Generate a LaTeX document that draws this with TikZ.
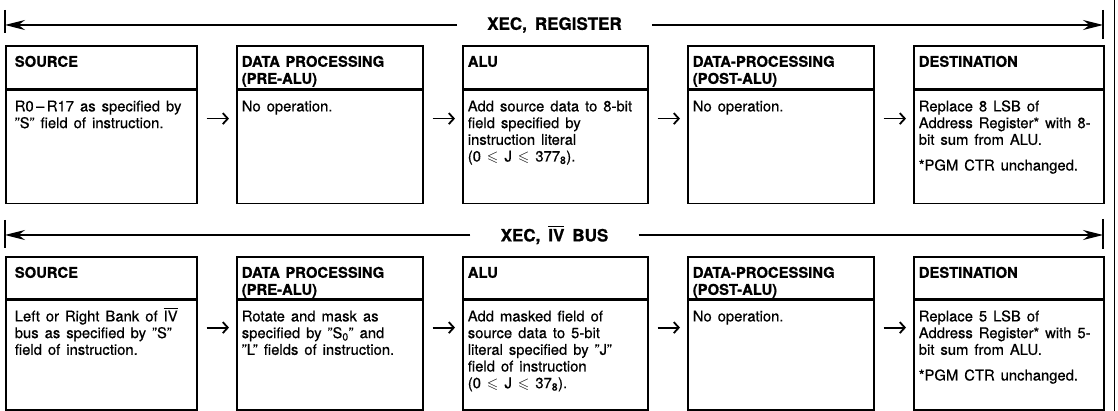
\documentclass[tikz,border=0pt]{standalone}
\usepackage{amssymb}
\usepackage{fontspec}
\setmainfont{TeX Gyre Heros}[UprightFeatures={FakeBold=0.6}, BoldFeatures={FakeBold=0.8}]
\usetikzlibrary{arrows.meta}

\begin{document}
\begin{tikzpicture}[x=1pt, y=-1pt,
    head/.style={draw, line width=1.6pt, anchor=north west, align=left,
        inner xsep=5pt, inner ysep=0pt, text height=21pt,
        font={\fontsize{14.8}{17}\selectfont\bfseries},
        execute at begin node={\spaceskip=5.5pt\relax}},
    body/.style={draw, line width=1.6pt, anchor=north west, align=left,
        inner xsep=5pt, inner ysep=0pt, text height=21pt,
        font={\fontsize{14.8}{16.7}\selectfont},
        execute at begin node={\spaceskip=6pt\relax}},
    flow/.style={-{Straight Barb[length=5pt,width=11pt]}, line width=1.8pt,
        shorten <=9pt, shorten >=7pt},
    bus/.style={-{Stealth[length=20pt,width=10pt]}, line width=1.2pt},
    tick/.style={line width=1.2pt},
    title/.style={font={\fontsize{17}{20}\selectfont\bfseries},
        execute at begin node={\spaceskip=8pt\relax},
        inner xsep=30pt, inner ysep=0pt}]

    \useasboundingbox (0,0) rectangle (1118,411);

    % Draw XEC, REGISTER bus line
    \node[title] (t1) at (554.5,25) {XEC, REGISTER};
    \coordinate (t1l) at (5,25);
    \coordinate (t1r) at (1103,25);
    \draw[bus] (t1) -- (t1l);
    \draw[bus] (t1) -- (t1r);
    \draw[tick] ([yshift=15pt]t1l) -- ([yshift=-8pt]t1l);
    \draw[tick] ([yshift=15pt]t1r) -- ([yshift=-14pt]t1r);

    % Draw first row of boxes
    \node[head, inner xsep=9pt, text width=173pt, text depth=22pt] (r1src) at (5,45) {SOURCE};
    \node[body, inner xsep=9pt, text width=173pt, text depth=92pt] (r1srcb) at (r1src.south west)
        {R0\,--\,R17 as specified by\\"S" field of instruction.};
    \node[head, text width=176pt, text depth=22pt] (r1pre) at (236,45) {DATA PROCESSING\\(PRE-ALU)};
    \node[body, text width=176pt, text depth=92pt] (r1preb) at (r1pre.south west)
        {No operation.};
    \node[head, text width=175pt, text depth=22pt] (r1alu) at (462,45) {ALU};
    \node[body, text width=175pt, text depth=92pt] (r1alub) at (r1alu.south west)
        {Add source data to 8-bit\\field specified by\\instruction literal\\(0 $\leqslant$ J $\leqslant$ 377\textsubscript{8}).};
    \node[head, text width=176pt, text depth=22pt] (r1post) at (687,45) {DATA-PROCESSING\\(POST-ALU)};
    \node[body, text width=176pt, text depth=92pt] (r1postb) at (r1post.south west)
        {No operation.};
    \node[head, text width=180pt, text depth=22pt] (r1dst) at (913,45) {DESTINATION};
    \node[body, text width=180pt, text depth=92pt] (r1dstb) at (r1dst.south west)
        {Replace 8 LSB of\\Address Register* with 8-\\bit sum from ALU.\\[9pt]*PGM CTR unchanged.};

    \foreach \a/\b in {src/pre,pre/alu,alu/post,post/dst} {
        \draw[flow] ([yshift=-29pt]r1\a b.north east) -- ([yshift=-29pt]r1\b b.north west);
    }

    % Draw XEC, IV BUS line
    \node[title] (t2) at (554.5,235) {XEC, $\overline{\mbox{IV}}$ BUS};
    \coordinate (t2l) at (5,235);
    \coordinate (t2r) at (1103,235);
    \draw[bus] (t2) -- (t2l);
    \draw[bus] (t2) -- (t2r);
    \draw[tick] ([yshift=15pt]t2l) -- ([yshift=-13pt]t2l);
    \draw[tick] ([yshift=16pt]t2r) -- ([yshift=-14pt]t2r);

    % Draw second row of boxes
    \node[head, inner xsep=9pt, text width=173pt, text depth=21pt] (r2src) at (5,256) {SOURCE};
    \node[body, inner xsep=9pt, text width=173pt, text depth=88.5pt] (r2srcb) at (r2src.south west)
        {Left or Right Bank of $\overline{\mbox{IV}}$\\bus as specified by "S"\\field of instruction.};
    \node[head, text width=176pt, text depth=21pt] (r2pre) at (236,256) {DATA PROCESSING\\(PRE-ALU)};
    \node[body, text width=176pt, text depth=88.5pt] (r2preb) at (r2pre.south west)
        {Rotate and mask as\\specified by "S\textsubscript{0}" and\\"L" fields of instruction.};
    \node[head, text width=175pt, text depth=21pt] (r2alu) at (462,256) {ALU};
    \node[body, text width=175pt, text depth=88.5pt] (r2alub) at (r2alu.south west)
        {Add masked field of\\source data to 5-bit\\literal specified by "J"\\field of instruction\\(0 $\leqslant$ J $\leqslant$ 37\textsubscript{8}).};
    \node[head, text width=176pt, text depth=21pt] (r2post) at (687,256) {DATA-PROCESSING\\(POST-ALU)};
    \node[body, text width=176pt, text depth=88.5pt] (r2postb) at (r2post.south west)
        {No operation.};
    \node[head, text width=180pt, text depth=21pt] (r2dst) at (913,256) {DESTINATION};
    \node[body, text width=180pt, text depth=88.5pt] (r2dstb) at (r2dst.south west)
        {Replace 5 LSB of\\Address Register* with 5-\\bit sum from ALU.\\[9pt]*PGM CTR unchanged.};

    \foreach \a/\b in {src/pre,pre/alu,alu/post,post/dst} {
        \draw[flow] ([yshift=-28pt]r2\a b.north east) -- ([yshift=-28pt]r2\b b.north west);
    }

    % Page edge
    \draw[line width=1pt] (1114,0) -- (1114,411);
\end{tikzpicture}
\end{document}
